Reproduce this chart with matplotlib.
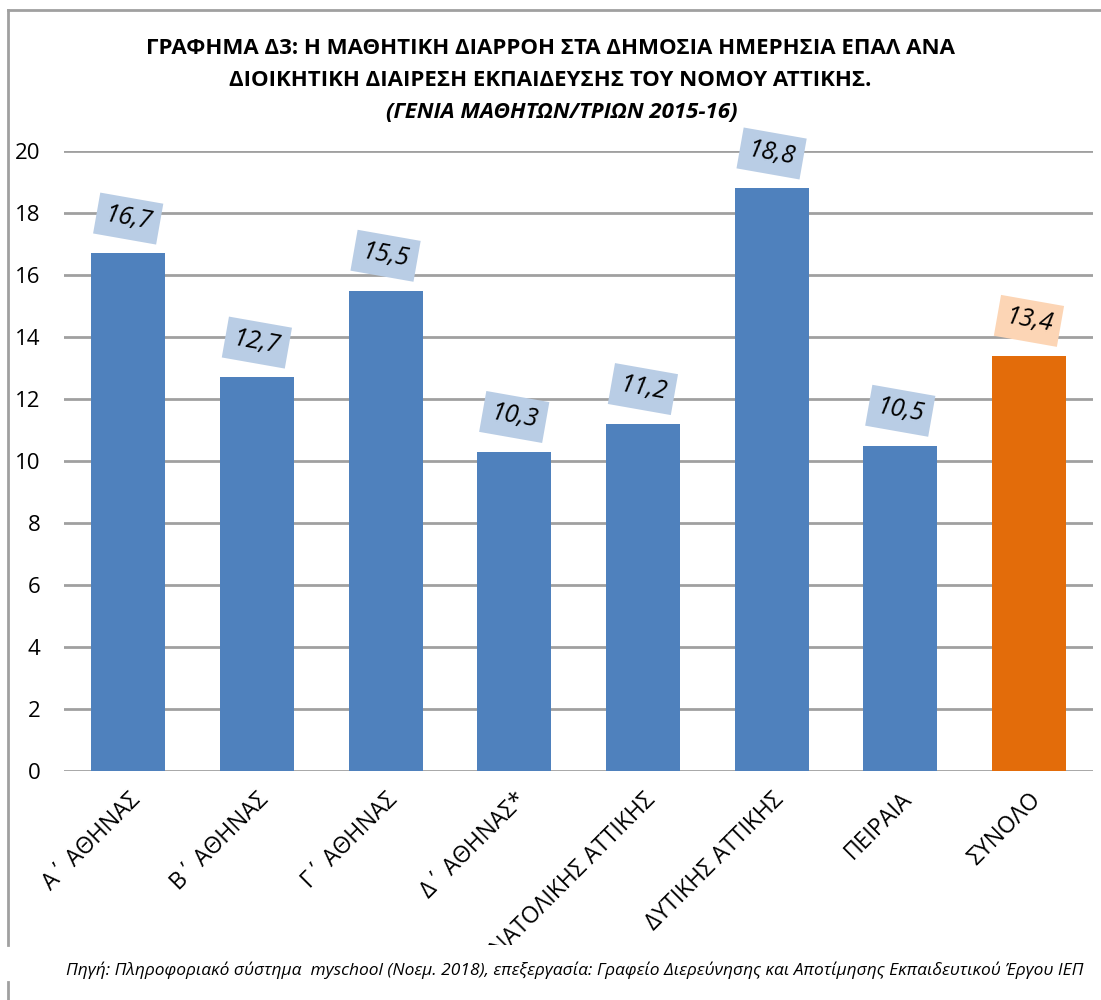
import matplotlib.pyplot as plt
from matplotlib.lines import Line2D
from matplotlib.transforms import Bbox, TransformedBbox

plt.rcParams['font.family'] = ['Open Sans', 'DejaVu Sans']

categories = ["Α΄ ΑΘΗΝΑΣ", "Β΄ ΑΘΗΝΑΣ", "Γ΄ ΑΘΗΝΑΣ", "Δ΄ ΑΘΗΝΑΣ*",
              "ΑΝΑΤΟΛΙΚΗΣ ΑΤΤΙΚΗΣ", "ΔΥΤΙΚΗΣ ΑΤΤΙΚΗΣ", "ΠΕΙΡΑΙΑ", "ΣΥΝΟΛΟ"]
values = [16.7, 12.7, 15.5, 10.3, 11.2, 18.8, 10.5, 13.4]
value_labels = ["16,7", "12,7", "15,5", "10,3", "11,2", "18,8", "10,5", "13,4"]
yticks = [0, 2, 4, 6, 8, 10, 12, 14, 16, 18, 20]

blue = "#4F81BD"
orange = "#E36C0A"
blue_box = "#B9CDE5"
orange_box = "#FCD5B5"

fig = plt.figure(figsize=(11.01, 10.0), dpi=100)
ax = fig.add_axes([0.058, 0.229, 0.935, 0.62])

colors = [blue] * (len(values) - 1) + [orange]
boxes = [blue_box] * (len(values) - 1) + [orange_box]
x = list(range(len(values)))
ax.bar(x, values, width=0.575, color=colors, zorder=3)

for i, v in enumerate(values):
    ax.annotate(value_labels[i], (i, v), xytext=(0, 25), textcoords="offset points",
                ha="center", va="center", rotation=-10, fontsize=18, style="italic",
                color="black", zorder=4,
                bbox=dict(boxstyle="square,pad=0.33", fc=boxes[i], ec="none"))

ax.set_xlim(-0.5, len(values) - 0.5)
ax.set_ylim(0, 20)
ax.set_yticks(yticks)
ax.set_yticklabels([str(t) for t in yticks], fontsize=16)
ax.yaxis.grid(True, color="#A0A0A0", linewidth=2, zorder=0)
ax.set_axisbelow(True)
for s in ax.spines.values():
    s.set_visible(False)
ax.tick_params(axis="both", length=0)
ax.tick_params(axis="y", pad=17)

ax.set_xticks(x)
ax.set_xticklabels(categories, fontsize=16.5, rotation=45, ha="right",
                   rotation_mode="anchor")
ax.tick_params(axis="x", pad=12)
clip = TransformedBbox(Bbox([[0, 0.055], [1, 1]]), fig.transFigure)
for lbl in ax.get_xticklabels():
    lbl.set_clip_on(True)
    lbl.set_clip_box(clip)

fig.text(0.5, 0.952, "ΓΡΑΦΗΜΑ Δ3: Η ΜΑΘΗΤΙΚΗ ΔΙΑΡΡΟΗ ΣΤΑ ΔΗΜΟΣΙΑ ΗΜΕΡΗΣΙΑ ΕΠΑΛ ΑΝΑ",
         ha="center", va="center", fontsize=16, fontweight="bold")
fig.text(0.5, 0.920, "ΔΙΟΙΚΗΤΙΚΗ ΔΙΑΙΡΕΣΗ ΕΚΠΑΙΔΕΥΣΗΣ ΤΟΥ ΝΟΜΟΥ ΑΤΤΙΚΗΣ.",
         ha="center", va="center", fontsize=16, fontweight="bold")
fig.text(0.510, 0.888, "(ΓΕΝΙΑ ΜΑΘΗΤΩΝ/ΤΡΙΩΝ 2015-16)",
         ha="center", va="center", fontsize=16, fontweight="bold", style="italic")

fig.text(0.522, 0.030,
         "Πηγή: Πληροφοριακό σύστημα  myschool (Νοεμ. 2018), επεξεργασία: Γραφείο Διερεύνησης και Αποτίμησης Εκπαιδευτικού Έργου ΙΕΠ",
         ha="center", va="center", fontsize=12.5, style="italic")

# chart frame
fig.add_artist(Line2D([0.0075, 0.0075], [0.055, 0.99], color="#A0A0A0", lw=2))
fig.add_artist(Line2D([0.0075, 0.0075], [0.0, 0.018], color="#A0A0A0", lw=2))
fig.add_artist(Line2D([0.0075, 1.0], [0.99, 0.99], color="#A0A0A0", lw=2))

fig.savefig("out.png", dpi=100)
